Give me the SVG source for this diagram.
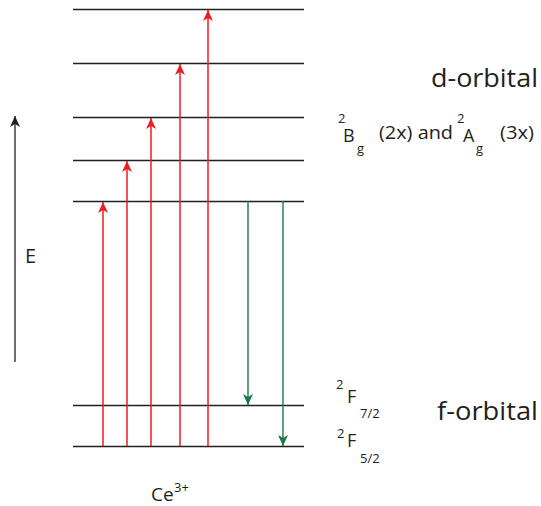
<svg xmlns="http://www.w3.org/2000/svg" width="541" height="506" viewBox="0 0 541 506">
<style>
.lvl{stroke:#231f20;stroke-width:1.3}
.red{stroke:#ed1c24;stroke-width:1.5}
.grn{stroke:#1a7a45;stroke-width:1.4}
text{font-family:"Open Sans","Liberation Sans",sans-serif;fill:#231f20}
.big{font-size:25px}
.mid{font-size:18px}
.sm{font-size:13px}
</style>
<defs>
<marker id="ar" markerWidth="11" markerHeight="11" refX="0" refY="0" orient="auto" markerUnits="userSpaceOnUse" viewBox="-11 -5.5 11 11"><path d="M-11,-5 L0,0 L-11,5 L-8,0 Z" fill="#ed1c24"/></marker>
<marker id="ag" markerWidth="11" markerHeight="11" refX="0" refY="0" orient="auto" markerUnits="userSpaceOnUse" viewBox="-11 -5.5 11 11"><path d="M-11,-5 L0,0 L-11,5 L-8,0 Z" fill="#1a7a45"/></marker>
<marker id="ak" markerWidth="11" markerHeight="11" refX="0" refY="0" orient="auto" markerUnits="userSpaceOnUse" viewBox="-11 -5.5 11 11"><path d="M-11,-5 L0,0 L-11,5 L-8,0 Z" fill="#231f20"/></marker>
</defs>
<g id="levels">
<line class="lvl" x1="73" y1="9.5" x2="304" y2="9.5"/>
<line class="lvl" x1="73" y1="63.5" x2="304" y2="63.5"/>
<line class="lvl" x1="73" y1="117.5" x2="304" y2="117.5"/>
<line class="lvl" x1="73" y1="160.5" x2="304" y2="160.5"/>
<line class="lvl" x1="73" y1="201.5" x2="304" y2="201.5"/>
<line class="lvl" x1="73" y1="405.5" x2="304" y2="405.5"/>
<line class="lvl" x1="73" y1="446.5" x2="304" y2="446.5"/>
</g>
<g id="connectors">
<line class="red" x1="103" y1="446" x2="103" y2="202" marker-end="url(#ar)"/>
<line class="red" x1="127" y1="446" x2="127" y2="161" marker-end="url(#ar)"/>
<line class="red" x1="151" y1="446" x2="151" y2="118" marker-end="url(#ar)"/>
<line class="red" x1="180" y1="446" x2="180" y2="64" marker-end="url(#ar)"/>
<line class="red" x1="208" y1="446" x2="208" y2="10" marker-end="url(#ar)"/>
<line class="grn" x1="248" y1="201" x2="248" y2="405" marker-end="url(#ag)"/>
<line class="grn" x1="283" y1="201" x2="283" y2="446" marker-end="url(#ag)"/>
<line stroke="#231f20" stroke-width="1.3" x1="15" y1="362" x2="15" y2="116" marker-end="url(#ak)"/>
</g>
<g id="labels">
<text x="25" y="263" font-size="20">E</text>
<text x="431" y="87" class="big" textLength="107" lengthAdjust="spacingAndGlyphs">d-orbital</text>
<text x="437" y="420" class="big" textLength="101" lengthAdjust="spacingAndGlyphs">f-orbital</text>
<text x="338" y="123" class="sm">2</text>
<text x="343" y="142" class="mid">B</text>
<text x="357" y="153" class="sm">g</text>
<text x="379" y="139" class="mid" textLength="74" lengthAdjust="spacingAndGlyphs">(2x) and</text>
<text x="457" y="123" class="sm">2</text>
<text x="463" y="142" class="mid">A</text>
<text x="476" y="153" class="sm">g</text>
<text x="500" y="139" class="mid" textLength="34" lengthAdjust="spacingAndGlyphs">(3x)</text>
<text x="336" y="389" class="sm">2</text>
<text x="347" y="403" class="mid">F</text>
<text x="360" y="418" class="sm">7/2</text>
<text x="337" y="438" class="sm">2</text>
<text x="347" y="447" class="mid">F</text>
<text x="360" y="463" class="sm">5/2</text>
<text x="151" y="501" font-size="19">Ce</text>
<text x="174" y="492" class="sm">3+</text>
</g>
</svg>
